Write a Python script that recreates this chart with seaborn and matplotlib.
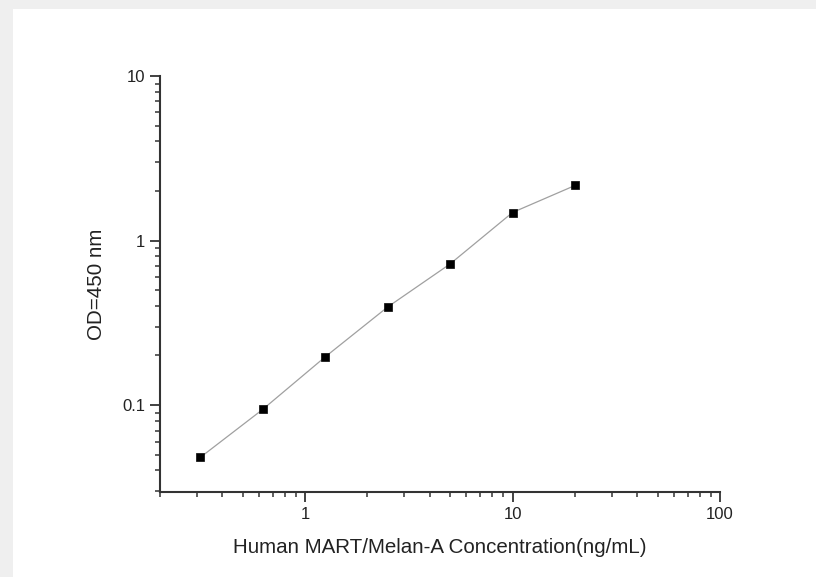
import numpy as np
import pandas as pd
import seaborn as sns
import matplotlib.pyplot as plt
from matplotlib.patches import Rectangle
from matplotlib.ticker import LogLocator, NullFormatter, FixedLocator, FixedFormatter

# standard curve data
conc = [0.3125, 0.625, 1.25, 2.5, 5, 10, 20]
od = [0.048, 0.094, 0.196, 0.394, 0.72, 1.48, 2.16]

x_ticks = [1, 10, 100]
x_labels = ['1', '10', '100']
y_ticks = [0.1, 1, 10]
y_labels = ['0.1', '1', '10']

df = pd.DataFrame({'conc': conc, 'od': od})

sns.set_style('white')
plt.rcParams['font.family'] = ['Liberation Sans', 'DejaVu Sans']

fig = plt.figure(figsize=(8.16, 5.77), dpi=100)
fig.patch.set_facecolor('#efefef')
# white panel inside the light grey frame
fig.patches.append(Rectangle((13 / 816, 0), 1 - 13 / 816, 1 - 9 / 577,
                             transform=fig.transFigure, facecolor='white',
                             edgecolor='none', zorder=-10))

ax = fig.add_axes([160 / 816, 85 / 577, 560 / 816, 416 / 577])
ax.set_facecolor('white')

sns.lineplot(data=df, x='conc', y='od', ax=ax, color='#a0a0a0', linewidth=0.9)
sns.scatterplot(data=df, x='conc', y='od', ax=ax, marker='s', s=36,
                color='black', edgecolor='black', zorder=3)

ax.set_xscale('log')
ax.set_yscale('log')
ax.set_xlim(0.2, 100)
ax.set_ylim(0.0296, 10)

ax.xaxis.set_major_locator(FixedLocator(x_ticks))
ax.xaxis.set_major_formatter(FixedFormatter(x_labels))
ax.yaxis.set_major_locator(FixedLocator(y_ticks))
ax.yaxis.set_major_formatter(FixedFormatter(y_labels))
ax.xaxis.set_minor_locator(LogLocator(base=10, subs=np.arange(2, 10)))
ax.yaxis.set_minor_locator(LogLocator(base=10, subs=np.arange(2, 10)))
ax.xaxis.set_minor_formatter(NullFormatter())
ax.yaxis.set_minor_formatter(NullFormatter())

sns.despine(ax=ax)
for side in ['left', 'bottom']:
    ax.spines[side].set_color('#333333')
    ax.spines[side].set_linewidth(1.5)

ax.tick_params(which='major', direction='out', length=7, width=1.3,
               color='#333333', labelsize=12, labelcolor='#222222', left=True, bottom=True)
ax.tick_params(which='minor', direction='out', length=3.5, width=1.1,
               color='#333333', left=True, bottom=True)

ax.set_xlabel('Human MART/Melan-A Concentration(ng/mL)', fontsize=14.8, color='#222222', labelpad=12)
ax.set_ylabel('OD=450 nm', fontsize=14.8, color='#222222', labelpad=12)

fig.savefig('out.png', dpi=100, facecolor=fig.get_facecolor())
